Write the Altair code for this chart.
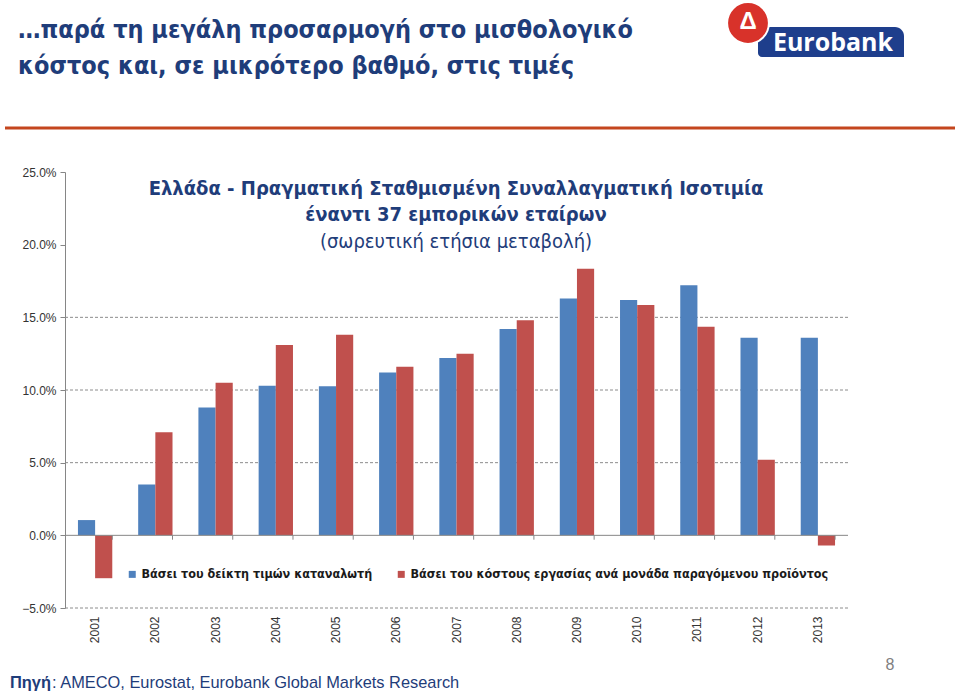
import altair as alt
import pandas as pd

years = [str(y) for y in range(2001, 2014)]
cpi_based = [1.05, 3.5, 8.8, 10.3, 10.25, 11.2, 12.2, 14.2, 16.3, 16.2, 17.2, 13.6, 13.6]
ulc_based = [-2.95, 7.1, 10.5, 13.1, 13.8, 11.6, 12.5, 14.8, 18.35, 15.85, 14.35, 5.2, -0.7]
series_names = [
    "Βάσει του δείκτη τιμών καταναλωτή",
    "Βάσει  του κόστους εργασίας ανά μονάδα παραγόμενου προϊόντος",
]
series_colors = ["#4F81BD", "#C0504D"]
y_ticks = [-5, 0, 5, 10, 15, 20, 25]
grid_values = [-5, 5, 10, 15]

page_title = [
    "…παρά τη μεγάλη προσαρμογή στο μισθολογικό",
    "κόστος και, σε μικρότερο βαθμό, στις τιμές",
]
chart_title = [
    "Ελλάδα  - Πραγματική Σταθμισμένη Συναλλαγματική Ισοτιμία",
    "έναντι 37 εμπορικών εταίρων",
    "(σωρευτική ετήσια μεταβολή)",
]
source_head = "Πηγή"
source_text = ":  AMECO, Eurostat, Eurobank Global Markets Research"
page_number = "8"
logo_text = "Eurobank"

rows = []
for i, yr in enumerate(years):
    rows.append({"year": yr, "series": series_names[0], "value": cpi_based[i]})
    rows.append({"year": yr, "series": series_names[1], "value": ulc_based[i]})
df = pd.DataFrame(rows)

W, H = 783, 436
NARROW = "Liberation Sans Narrow, DejaVu Sans Condensed, Arial Narrow, sans-serif"
SANS = "Liberation Sans, Arial, sans-serif"
NAVY = "#1F3D7A"
AXIS_GRAY = "#868686"

x_axis = alt.Axis(title=None, labelAngle=270, domain=False, ticks=False, labelPadding=8,
                  labelFont=SANS, labelFontSize=12, labelColor="#333333")
x_scale = alt.Scale(paddingInner=0.43, paddingOuter=0.215)
y_axis = alt.Axis(title=None, values=y_ticks, labelExpr="format(datum.value,'.1f') + '%'",
                  grid=False, domainColor=AXIS_GRAY, tickColor=AXIS_GRAY, tickSize=5,
                  labelFont=SANS, labelFontSize=12, labelColor="#333333", labelPadding=4)
y_scale = alt.Scale(domain=[-5, 25], nice=False)

bars = alt.Chart(df).mark_bar().encode(
    x=alt.X("year:N", sort=years, scale=x_scale, axis=x_axis),
    xOffset=alt.XOffset("series:N", sort=series_names),
    y=alt.Y("value:Q", scale=y_scale, axis=y_axis),
    color=alt.Color("series:N", sort=series_names,
                    scale=alt.Scale(domain=series_names, range=series_colors),
                    legend=alt.Legend(orient="none", legendX=61, legendY=396, direction="horizontal",
                                      title=None, symbolType="square", symbolSize=49,
                                      symbolStrokeWidth=0, labelFont=NARROW, labelFontWeight="bold",
                                      labelFontSize=12.5, labelColor="#1a1a1a", columnPadding=22,
                                      labelOffset=3, labelLimit=700)),
)

grid = alt.Chart(pd.DataFrame({"value": grid_values})).mark_rule(
    strokeDash=[3, 2], color="#8c8c8c", strokeWidth=1
).encode(y=alt.Y("value:Q", scale=y_scale, axis=y_axis), x=alt.value(0), x2=alt.value(W))

zero = alt.Chart(pd.DataFrame({"value": [0]})).mark_rule(color=AXIS_GRAY, strokeWidth=1).encode(
    y=alt.Y("value:Q", scale=y_scale, axis=y_axis), x=alt.value(0), x2=alt.value(W))

bticks = alt.Chart(pd.DataFrame({"year": years})).mark_rule(color=AXIS_GRAY, strokeWidth=1).encode(
    x=alt.X("year:N", sort=years, scale=x_scale, axis=x_axis, bandPosition=1),
    y=alt.datum(0), y2=alt.datum(-0.3))


def text_layer(txt, x, y, size, color, weight="normal", font=SANS, align="left", baseline="middle"):
    return alt.Chart(pd.DataFrame({"t": [txt]})).mark_text(
        align=align, baseline=baseline, fontSize=size, font=font, fontWeight=weight, color=color
    ).encode(text="t:N", x=alt.value(x), y=alt.value(y))


layers = [grid, bars, zero, bticks]

# page heading
layers.append(text_layer(page_title[0], -47, -142, 25, NAVY, "bold", NARROW))
layers.append(text_layer(page_title[1], -47, -106, 25, NAVY, "bold", NARROW))

# orange separator
layers.append(alt.Chart(pd.DataFrame({"v": [0]})).mark_rule(color="#C4461E", strokeWidth=3).encode(
    x=alt.value(-60), x2=alt.value(890), y=alt.value(-44)))

# logo
layers.append(alt.Chart(pd.DataFrame({"v": [0]})).mark_rect(color="#1E3E8C", cornerRadiusTopRight=9,
                                                            cornerRadiusBottomLeft=4).encode(
    x=alt.value(693), x2=alt.value(839), y=alt.value(-145), y2=alt.value(-115)))
layers.append(alt.Chart(pd.DataFrame({"v": [0]})).mark_point(
    shape="circle", filled=True, color="#D8322A", size=1750, stroke="white", strokeWidth=2, opacity=1
).encode(x=alt.value(683), y=alt.value(-149)))
layers.append(text_layer("Δ", 683, -150, 24, "white", "bold", SANS, align="center"))
layers.append(text_layer(logo_text, 768, -129, 25, "white", "bold", "Open Sans, Liberation Sans, sans-serif",
                         align="center"))

# chart title
layers.append(text_layer(chart_title[0], 391, 17, 20, NAVY, "bold", NARROW, align="center"))
layers.append(text_layer(chart_title[1], 391, 43, 20, NAVY, "bold", NARROW, align="center"))
layers.append(text_layer(chart_title[2], 391, 70, 20, NAVY, "normal", NARROW, align="center"))

# footer
layers.append(text_layer(source_head, -55, 511, 16.4, NAVY, "bold", SANS))
layers.append(text_layer(source_text, -13, 511, 16.4, NAVY, "normal", SANS))
layers.append(text_layer(page_number, 825, 493, 16, "#808080", "normal", SANS, align="center"))

chart = alt.layer(*layers).properties(
    width=W, height=H,
    padding={"left": 65, "top": 172, "right": 112, "bottom": 87},
    autosize=alt.AutoSizeParams(type="none"),
    background="white",
).configure_view(stroke=None)

chart.save("out.html", embed_options={"renderer": "svg", "actions": False})
